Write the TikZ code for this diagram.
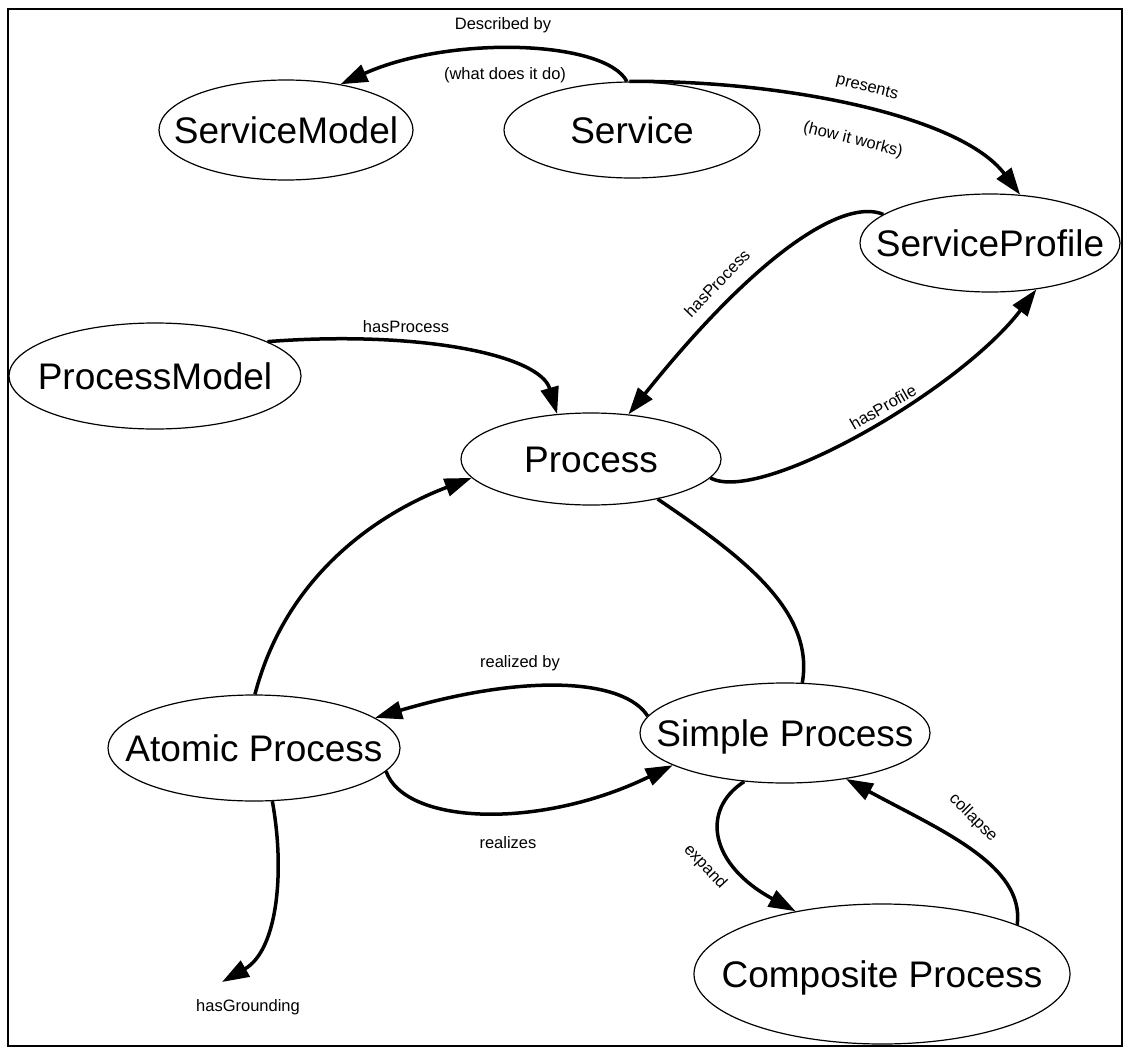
\documentclass[tikz,border=0pt]{standalone}
\usepackage{fontspec}
\setmainfont{Liberation Sans}
\usetikzlibrary{shapes.geometric,arrows.meta}
\begin{document}
\begin{tikzpicture}[x=1pt,y=-1pt,
  ent/.style={ellipse,draw,line width=1.2pt,inner sep=0pt,
    font=\fontsize{37}{40}\selectfont,text height=27pt,text depth=0pt},
  rel/.style={line width=3.5pt,-{Triangle[length=27pt,width=18pt]}},
  plain/.style={line width=3.5pt},
  lbl/.style={font=\fontsize{16.5}{18}\selectfont,inner sep=0pt}]
\useasboundingbox (0,0) rectangle (1128,1052);
\draw[line width=2pt] (8,9) rectangle (1122,1046);

% entities
\node[ent,minimum width=254pt,minimum height=100pt] (sm) at (286,130) {\makebox[0pt]{ServiceModel}};
\node[ent,minimum width=256pt,minimum height=96pt] (svc) at (632,130) {\makebox[0pt]{Service}};
\node[ent,minimum width=260pt,minimum height=98pt] (sp) at (990,243) {\makebox[0pt]{ServiceProfile}};
\node[ent,minimum width=292pt,minimum height=106pt] (pm) at (155,376) {\makebox[0pt]{ProcessModel}};
\node[ent,minimum width=260pt,minimum height=92pt] (pr) at (591,459) {\makebox[0pt]{Process}};
\node[ent,minimum width=292pt,minimum height=106pt] (ap) at (254,748) {\makebox[0pt]{Atomic Process}};
\node[ent,minimum width=290pt,minimum height=100pt] (simp) at (785,733) {\makebox[0pt]{Simple Process}};
\node[ent,minimum width=376pt,minimum height=140pt] (cp) at (882,974) {\makebox[0pt]{Composite Process}};

% Service -> ServiceModel
\draw[rel] (svc.96) .. controls (605,40) and (450,35) .. (sm.40);
\node[lbl] (ldesc) at (503,25) {Described by};
\node[lbl] (lwhat) at (505,75) {(what does it do)};

% Service -> ServiceProfile
\draw[rel] (svc.93) .. controls (780,80) and (960,115) .. (sp.58);
\node[lbl,rotate=-14] (lpres) at (867,88) {presents};
\node[lbl,rotate=-14] (lhow) at (853,140) {(how it works)};

% ServiceProfile -> Process
\draw[rel] (sp.165) .. controls (845,198) and (760,250) .. (pr.50);
\node[lbl,rotate=46] (lhp1) at (717,283) {hasProcess};

% Process -> ServiceProfile
\draw[rel] (pr.-9) .. controls (760,505) and (960,390) .. (sp.-45);
\node[lbl,rotate=30] (lhprof) at (883,407) {hasProfile};

% ProcessModel -> Process
\draw[rel] (pm.17) .. controls (420,330) and (540,355) .. (pr.127);
\node[lbl] (lhp2) at (406,327) {hasProcess};

% Atomic -> Process
\draw[rel] (ap.89) .. controls (290,560) and (400,505) .. (pr.189);

% Process -- Simple
\draw[plain] (pr.-31) .. controls (740,555) and (815,610) .. (simp.71);

% Simple -> Atomic
\draw[rel] (simp.173) .. controls (625,680) and (530,672) .. (ap.14);
\node[lbl] (lrby) at (520,663) {realized by};

% Atomic -> Simple
\draw[rel] (ap.-10) .. controls (405,825) and (540,830) .. (simp.196);
\node[lbl] (lreal) at (508,843) {realizes};

% Simple -> Composite
\draw[rel] (simp.-130) .. controls (700,810) and (710,865) .. (cp.144);
\node[lbl,rotate=-47] (lexp) at (705,867) {expand};

% Composite -> Simple
\draw[rel] (cp.20) .. controls (1025,865) and (940,830) .. (simp.-37);
\node[lbl,rotate=-45] (lcol) at (973,818) {collapse};

% Atomic -> grounding
\coordinate (gnd) at (222,982);
\draw[rel] (ap.-71) .. controls (285,870) and (278,950) .. (gnd);
\node[lbl] (lgnd) at (248,1007) {hasGrounding};
\end{tikzpicture}
\end{document}
